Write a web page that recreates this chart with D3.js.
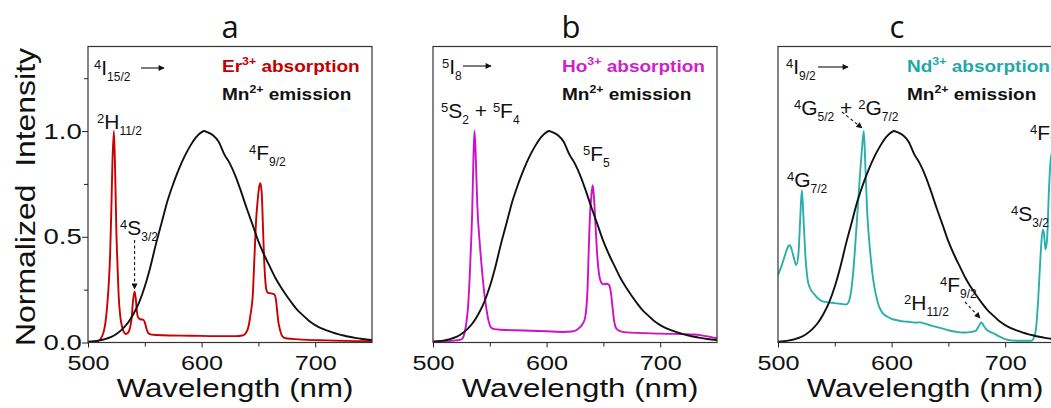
<!DOCTYPE html>
<html><head><meta charset="utf-8">
<script src="https://cdn.jsdelivr.net/npm/d3@7"></script>
<style>body{margin:0;background:#fff} svg{display:block}</style>
</head><body><svg id="chart" width="1051" height="408"></svg>
<script>
// ---------- data ----------
const panelTitles = ["a", "b", "c"];
const wavelengthTicks = [500, 600, 700];
const wavelengthMinorTicks = [550, 650];
const intensityTicks = [0, 0.5, 1.0];
const intensityMinorTicks = [0.25, 0.75, 1.25];

const mnWavelength = [500,505,510,515,520,525,530,535,540,545,550,555,560,565,570,575,580,585,590,595,600,602,605,610,615,620,625,630,635,640,645,650,655,660,665,670,675,680,685,690,695,700,705,710,715,720,725,730,735,740,745,750];
const mnEmission   = [0.004,0.006,0.010,0.016,0.025,0.040,0.062,0.092,0.135,0.19,0.265,0.36,0.47,0.57,0.67,0.75,0.82,0.88,0.93,0.97,0.995,1.0,0.995,0.98,0.95,0.89,0.845,0.785,0.71,0.63,0.555,0.478,0.415,0.36,0.305,0.26,0.22,0.183,0.15,0.125,0.10,0.082,0.068,0.057,0.048,0.040,0.033,0.027,0.022,0.018,0.014,0.012];

const erWavelength = [500,506,509,512,514,515.5,517,518.5,519.5,520.5,521.5,522.8,524,525,526,527,528.5,530,531.5,533,535,537,538.5,539.5,541,542,543,544,546,548.5,550,551.5,553,556,565,590,615,630,636,639,641,643,645,646.5,648,649.5,650.5,651.8,653,654,655,656,657,658.5,661,664,665.5,666.5,667.5,669,671,674,685,710,750];
const erAbsorption = [0.0,0.002,0.006,0.025,0.055,0.10,0.18,0.30,0.42,0.62,0.85,1.0,0.78,0.52,0.36,0.22,0.12,0.075,0.05,0.04,0.045,0.07,0.12,0.19,0.242,0.21,0.15,0.12,0.11,0.108,0.095,0.065,0.045,0.037,0.034,0.032,0.03,0.03,0.033,0.045,0.07,0.13,0.22,0.40,0.58,0.68,0.73,0.753,0.70,0.55,0.40,0.30,0.25,0.235,0.232,0.228,0.20,0.15,0.10,0.06,0.03,0.02,0.015,0.01,0.006];

const hoWavelength = [500,510,520,525,527,529,531,533,534.5,535.5,536.5,537.5,539,541,543,545,547,549,551,554,560,580,600,615,622,626,629,632,634,636,637,638,639.5,640.6,641.5,643,644.5,646,648,650,653,655,656.5,658,659.5,661,664,670,700,730,740,750];
const hoAbsorption = [0.005,0.006,0.01,0.015,0.03,0.08,0.18,0.40,0.62,0.85,1.0,0.90,0.65,0.48,0.35,0.24,0.16,0.10,0.072,0.063,0.06,0.057,0.053,0.05,0.052,0.058,0.07,0.09,0.12,0.25,0.42,0.58,0.70,0.744,0.70,0.56,0.42,0.33,0.285,0.275,0.278,0.272,0.24,0.17,0.10,0.07,0.055,0.048,0.042,0.038,0.03,0.02];

const ndWavelength = [500,503,506,509,510.5,512,514,516,518,519.5,521,522.5,524,526,528,532,536,540,545,550,555,560,562,564,566,568,570,572,574,575.5,577,578.5,580,582,584,586,589,592,596,600,605,610,615,620,625,630,635,640,645,650,655,660,665,670,674,677,679,681,683,686,690,695,700,705,715,723,725,727,729,731,733,734,735.5,737,738.5,740,742,745,750];
const ndAbsorption = [0.32,0.36,0.41,0.455,0.46,0.44,0.40,0.366,0.42,0.58,0.72,0.58,0.42,0.30,0.26,0.228,0.205,0.193,0.19,0.186,0.183,0.18,0.19,0.23,0.32,0.46,0.62,0.78,0.92,1.0,0.82,0.62,0.50,0.38,0.29,0.23,0.17,0.14,0.123,0.112,0.105,0.10,0.098,0.094,0.095,0.088,0.08,0.073,0.066,0.058,0.052,0.048,0.047,0.05,0.055,0.08,0.095,0.08,0.065,0.052,0.043,0.028,0.016,0.01,0.008,0.008,0.02,0.06,0.2,0.40,0.534,0.52,0.44,0.5,0.72,0.86,0.92,0.95,0.95];

const absorptionSeries = [
  {ion: "Er", color: "#c80000", wl: erWavelength, v: erAbsorption, legendColor: "#c00000"},
  {ion: "Ho", color: "#cc10cc", wl: hoWavelength, v: hoAbsorption, legendColor: "#cc22cc"},
  {ion: "Nd", color: "#2aaeae", wl: ndWavelength, v: ndAbsorption, legendColor: "#1fa8a8"}
];

// ---------- layout ----------
const svg = d3.select("#chart");
const panelLeft = [88, 433, 778];
const legendX = [222, 562, 907];
const panelW = 284, panelTop = 46.5, panelBottom = 342.5;
const panelH = panelBottom - panelTop;
const FONT = "'Liberation Sans', Arial, sans-serif";

const x = d3.scaleLinear().domain([500, 750]).range([0, panelW]);
const y = d3.scaleLinear().domain([0, 1.4]).range([panelH, 0]);
const line = d3.line().x(d => x(d[0])).y(d => y(d[1])).curve(d3.curveMonotoneX);

const defs = svg.append("defs");
defs.append("marker").attr("id", "ah").attr("viewBox", "0 0 10 10").attr("refX", 9).attr("refY", 5)
  .attr("markerWidth", 7).attr("markerHeight", 6).attr("markerUnits", "userSpaceOnUse").attr("orient", "auto")
  .append("path").attr("d", "M0,0 L10,5 L0,10 z").attr("fill", "#111");
panelLeft.forEach((l, i) => {
  defs.append("clipPath").attr("id", "clip" + i).append("rect")
    .attr("x", 0).attr("y", 0).attr("width", panelW).attr("height", panelH);
});

function term(parent, px, py, parts, size = 21) {
  const t = parent.append("text").attr("x", px).attr("y", py)
    .attr("font-family", FONT).attr("font-size", size).attr("fill", "#111");
  let shift = 0;
  parts.forEach(([s, k]) => {
    const target = k === 1 ? -6 : k === -1 ? 6 : 0;
    t.append("tspan").attr("dy", target - shift)
      .attr("font-size", k === 0 ? size : k === 1 ? 13 : 12).text(s);
    shift = target;
  });
  return t;
}
function arrow(parent, x1, y1, x2, y2, dashed) {
  parent.append("line").attr("x1", x1).attr("y1", y1).attr("x2", x2).attr("y2", y2)
    .attr("stroke", "#111").attr("stroke-width", 1.1)
    .attr("stroke-dasharray", dashed ? "3,2.5" : null).attr("marker-end", "url(#ah)");
}
function legend(parent, px, py, main, sup, rest, color) {
  const t = parent.append("text").attr("transform", `translate(${px},${py}) scale(1.12,1)`)
    .attr("font-family", FONT).attr("font-weight", "bold").attr("font-size", 17).attr("fill", color);
  t.append("tspan").text(main);
  t.append("tspan").attr("dy", -7).attr("font-size", 11).text(sup);
  t.append("tspan").attr("dy", 7).text(rest);
}

absorptionSeries.forEach((s, i) => {
  const g = svg.append("g").attr("transform", `translate(${panelLeft[i]},${panelTop})`);

  // x axis
  const xa = g.append("g").attr("transform", `translate(0,${panelH})`)
    .call(d3.axisBottom(x).tickValues(wavelengthTicks).tickSize(5).tickPadding(0));
  xa.select(".domain").remove();
  xa.selectAll("text").attr("y", 28).attr("dy", 0).attr("font-size", 21).attr("font-family", FONT)
    .attr("fill", "#111").attr("transform", "scale(1.2,1)");
  xa.selectAll("line").attr("stroke", "#222");
  const xm = g.append("g").attr("transform", `translate(0,${panelH})`)
    .call(d3.axisBottom(x).tickValues(wavelengthMinorTicks).tickSize(4).tickFormat(""));
  xm.select(".domain").remove();
  xm.selectAll("line").attr("stroke", "#222");

  if (i === 0) {
    const ya = g.append("g").call(d3.axisLeft(y).tickValues(intensityTicks).tickSize(6).tickFormat(d3.format(".1f")));
    ya.select(".domain").remove();
    ya.selectAll("text").attr("x", -5).attr("font-size", 22).attr("font-family", FONT)
      .attr("fill", "#111").attr("transform", "scale(1.25,1)");
    ya.selectAll("line").attr("stroke", "#222");
    const ym = g.append("g").call(d3.axisLeft(y).tickValues(intensityMinorTicks).tickSize(4).tickFormat(""));
    ym.select(".domain").remove();
    ym.selectAll("line").attr("stroke", "#222");
  }

  const plot = g.append("g").attr("clip-path", `url(#clip${i})`);
  plot.append("path").datum(d3.zip(s.wl, s.v)).attr("d", line)
    .attr("fill", "none").attr("stroke", s.color).attr("stroke-width", 1.9).attr("stroke-linejoin", "round");
  plot.append("path").datum(d3.zip(mnWavelength, mnEmission)).attr("d", line)
    .attr("fill", "none").attr("stroke", "#111").attr("stroke-width", 1.9).attr("stroke-linejoin", "round");

  g.append("rect").attr("width", panelW).attr("height", panelH)
    .attr("fill", "none").attr("stroke", "#333").attr("stroke-width", 1.2);

  // x label
  svg.append("text").attr("transform", `translate(${panelLeft[i] + 147},397) scale(1.25,1)`)
    .attr("text-anchor", "middle").attr("font-family", FONT).attr("font-size", 25).attr("fill", "#111")
    .text("Wavelength (nm)");

  legend(svg, legendX[i], 72, s.ion, "3+", " absorption", s.legendColor);
  legend(svg, legendX[i], 100, "Mn", "2+", " emission", "#111");
});

// titles
const titleX = [230, 571, 897];
panelTitles.forEach((t, i) => {
  svg.append("text").attr("x", titleX[i]).attr("y", 38).attr("text-anchor", "middle")
    .attr("font-family", "'Open Sans', sans-serif").attr("font-size", 31).attr("fill", "#111").text(t);
});

// y label
svg.append("text").attr("transform", "translate(35,197) rotate(-90)")
  .attr("text-anchor", "middle").attr("font-family", FONT).attr("font-size", 28).attr("fill", "#111")
  .attr("textLength", 298).attr("lengthAdjust", "spacingAndGlyphs")
  .text("Normalized\u00a0\u00a0Intensity");

// annotations — panel a
term(svg, 94, 75, [["4",1],["I",0],["15/2",-1]]);
arrow(svg, 141, 68, 164, 68, false);
term(svg, 97, 129, [["2",1],["H",0],["11/2",-1]]);
term(svg, 120, 235, [["4",1],["S",0],["3/2",-1]]);
arrow(svg, 88 + x(541), 240, 88 + x(541), 289, true);
term(svg, 249, 160, [["4",1],["F",0],["9/2",-1]]);

// panel b
term(svg, 442, 74, [["5",1],["I",0],["8",-1]]);
arrow(svg, 463, 66, 491, 66, false);
term(svg, 441, 118, [["5",1],["S",0],["2",-1],[" + ",0],["5",1],["F",0],["4",-1]]);
term(svg, 583, 161, [["5",1],["F",0],["5",-1]]);

// panel c
term(svg, 786, 74, [["4",1],["I",0],["9/2",-1]]);
arrow(svg, 818, 67, 848, 67, false);
term(svg, 794, 115, [["4",1],["G",0],["5/2",-1],[" + ",0],["2",1],["G",0],["7/2",-1]]);
arrow(svg, 842, 112, 862, 128, true);
term(svg, 787, 187, [["4",1],["G",0],["7/2",-1]]);
term(svg, 904, 310, [["2",1],["H",0],["11/2",-1]]);
term(svg, 940, 292, [["4",1],["F",0],["9/2",-1]]);
arrow(svg, 965, 302, 980, 318, true);
term(svg, 1011, 221, [["4",1],["S",0],["3/2",-1]]);
term(svg, 1030, 140, [["4",1],["F",0],["7/2",-1]]);
</script></body></html>
